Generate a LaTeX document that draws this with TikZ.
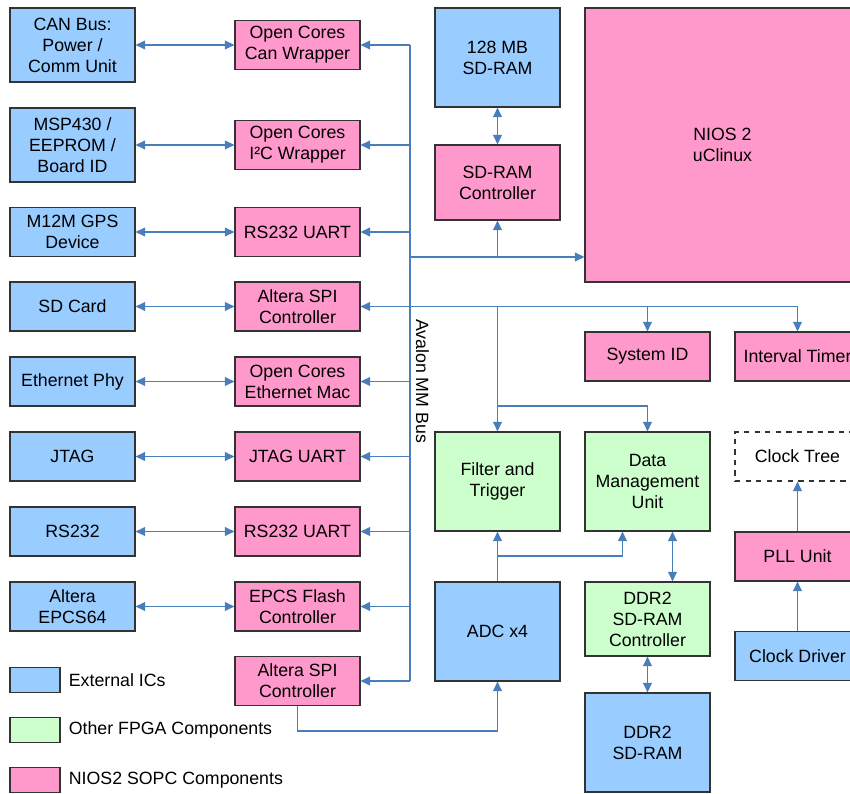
\documentclass[tikz,border=0pt]{standalone}
\usepackage{fontspec}
\setmainfont{Liberation Sans}
\usetikzlibrary{arrows.meta,positioning,calc}

\definecolor{extblue}{HTML}{99CCFF}
\definecolor{sopcpink}{HTML}{FF99CC}
\definecolor{fpgagreen}{HTML}{CCFFCC}
\definecolor{buscol}{HTML}{4A7EBB}

\begin{document}
\begin{tikzpicture}[
    box/.style={draw=black!80, line width=0.6pt, minimum width=2.5cm, minimum height=0.98cm, align=center, inner sep=1pt, font=\fontsize{10.1}{12}\selectfont},
    ext/.style={box, fill=extblue},
    sopc/.style={box, fill=sopcpink},
    fpga/.style={box, fill=fpgagreen},
    key/.style={draw=black!80, line width=0.6pt, minimum width=1cm, minimum height=0.5cm},
    keytxt/.style={anchor=west, inner sep=0pt, font=\fontsize{10.1}{12}\selectfont},
    wire/.style={draw=buscol, line width=0.85pt},
    arr/.style={wire, -{Triangle[length=5.5pt,width=5pt]}},
    dbl/.style={wire, {Triangle[length=5.5pt,width=5pt]}-{Triangle[length=5.5pt,width=5pt]}}
]
\useasboundingbox (0,0) rectangle (17,-15.88);

% external ICs
\node[ext, minimum height=1.48cm] (can) at (1.45,-0.9) {CAN Bus:\\Power /\\Comm Unit};
\node[ext, minimum height=1.48cm] (msp) at (1.45,-2.9) {MSP430 /\\EEPROM /\\Board ID};
\node[ext] (gps) at (1.45,-4.64) {M12M GPS\\Device};
\node[ext] (sd) at (1.45,-6.13) {SD Card};
\node[ext] (eth) at (1.45,-7.63) {Ethernet Phy};
\node[ext] (jtag) at (1.45,-9.13) {JTAG};
\node[ext] (rs) at (1.45,-10.63) {RS232};
\node[ext] (epcs) at (1.45,-12.13) {Altera\\EPCS64};

% SOPC peripherals
\node[sopc] (canw) at (5.95,-0.9) {Open Cores\\Can Wrapper};
\node[sopc] (i2c) at (5.95,-2.9) {Open Cores\\I²C Wrapper};
\node[sopc] (uart1) at (5.95,-4.64) {RS232 UART};
\node[sopc] (spi1) at (5.95,-6.13) {Altera SPI\\Controller};
\node[sopc] (ethmac) at (5.95,-7.63) {Open Cores\\Ethernet Mac};
\node[sopc] (jtaguart) at (5.95,-9.13) {JTAG UART};
\node[sopc] (uart2) at (5.95,-10.63) {RS232 UART};
\node[sopc] (flash) at (5.95,-12.13) {EPCS Flash\\Controller};
\node[sopc] (spi2) at (5.95,-13.62) {Altera SPI\\Controller};

% memory, cpu and processing
\node[ext, minimum height=1.98cm] (sdram) at (9.95,-1.15) {128 MB\\SD-RAM};
\node[sopc, minimum height=1.5cm] (sdctrl) at (9.95,-3.65) {SD-RAM\\Controller};
\node[sopc, minimum width=5.5cm, minimum height=5.48cm] (nios) at (14.45,-2.9) {NIOS 2\\uClinux};
\node[sopc] (sysid) at (12.95,-7.13) {System ID};
\node[sopc] (timer) at (15.95,-7.13) {Interval Timer};
\node[fpga, minimum height=1.98cm] (filt) at (9.95,-9.63) {Filter and\\Trigger};
\node[fpga, minimum height=1.98cm] (dmu) at (12.95,-9.63) {Data\\Management\\Unit};
\node[box, dashed, fill=white] (clktree) at (15.95,-9.13) {Clock Tree};
\node[sopc] (pll) at (15.95,-11.13) {PLL Unit};
\node[ext] (clkdrv) at (15.95,-13.12) {Clock Driver};
\node[ext, minimum height=1.98cm] (adc) at (9.95,-12.63) {ADC x4};
\node[fpga, minimum height=1.48cm] (ddrctrl) at (12.95,-12.38) {DDR2\\SD-RAM\\Controller};
\node[ext, minimum height=1.98cm] (ddr) at (12.95,-14.85) {DDR2\\SD-RAM};

% legend
\node[key, fill=extblue] (k1) at (0.7,-13.6) {};
\node[keytxt, right=0.16cm of k1] (k1t) {External ICs};
\node[key, fill=fpgagreen] (k2) at (0.7,-14.6) {};
\node[keytxt, right=0.16cm of k2] (k2t) {Other FPGA Components};
\node[key, fill=sopcpink] (k3) at (0.7,-15.6) {};
\node[keytxt, right=0.16cm of k3] (k3t) {NIOS2 SOPC Components};

% Avalon bus
\coordinate (bustop) at (8.2,-0.9);
\coordinate (busbot) at (8.2,-13.62);
\coordinate (niosin) at (8.2,-5.14);
\coordinate (dmubr) at (9.95,-8.12);
\coordinate (adcbr) at (9.95,-11.12);
\draw[wire] (bustop) -- (busbot);
\node[rotate=-90, inner sep=0pt, font=\fontsize{10.1}{12}\selectfont] (buslbl) at (8.45,-7.62) {Avalon MM Bus};

\foreach \a/\b in {can/canw, msp/i2c, gps/uart1, sd/spi1, eth/ethmac, jtag/jtaguart, rs/uart2, epcs/flash}
    \draw[dbl] (\a) -- (\b);
\foreach \n in {canw, i2c, uart1, spi1, ethmac, jtaguart, uart2, flash, spi2}
    \draw[arr] (bustop |- \n.east) -- (\n.east);

\draw[arr] (niosin) -- (niosin -| nios.west);
\draw[arr] (niosin -| sdctrl) -- (sdctrl.south);
\draw[dbl] (sdram) -- (sdctrl);
\draw[arr] (bustop |- spi1.east) -| (timer.north);
\draw[arr] (spi1.east -| sysid) -- (sysid.north);
\draw[arr] (spi1.east -| filt) -- (filt.north);
\draw[arr] (dmubr) -| (dmu.north);

\draw[arr] (adc.north) -- (filt.south);
\draw[arr] (adcbr) -| ([xshift=-0.5cm]dmu.south);
\draw[dbl] ([xshift=0.5cm]dmu.south) -- ([xshift=0.5cm]dmu.south |- ddrctrl.north);
\draw[dbl] (ddrctrl) -- (ddr);
\draw[arr] (spi2.south) -- ++(0,-0.5) -| (adc.south);

\draw[arr] (clkdrv) -- (pll);
\draw[arr] (pll) -- (clktree);
\end{tikzpicture}
\end{document}
